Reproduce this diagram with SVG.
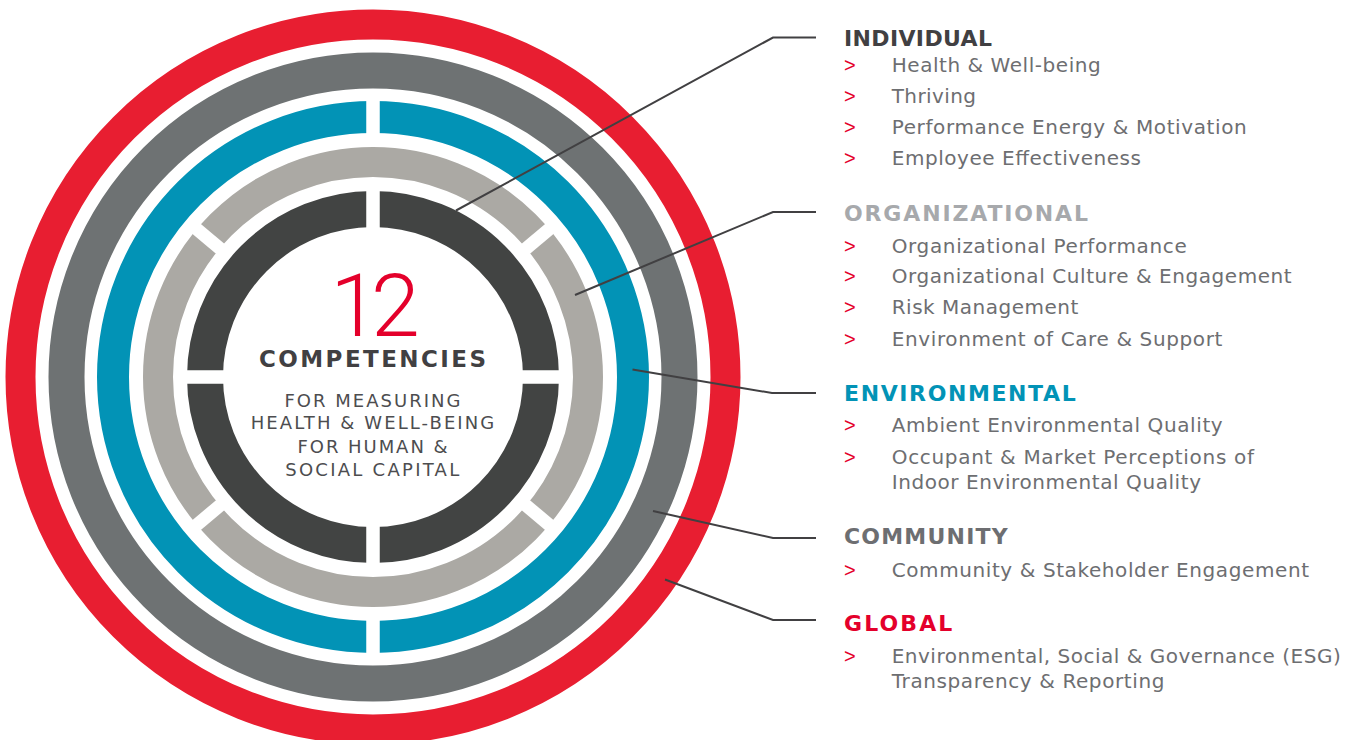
<svg xmlns="http://www.w3.org/2000/svg" width="1354" height="740" viewBox="0 0 1354 740">
  <style>
    .ring { fill: none; }
    .gap { fill: #ffffff; }
    .conn { fill: none; stroke: #414042; stroke-width: 2; stroke-linejoin: miter; }
    .hdr { font-family: "DejaVu Sans", "Liberation Sans", sans-serif; font-weight: bold; font-size: 22px; }
    .item { font-family: "DejaVu Sans", "Liberation Sans", sans-serif; font-size: 20px; fill: #6D6E71; }
    .bul { font-family: "Liberation Sans", Arial, sans-serif; font-size: 20px; fill: #E4002B; }
    .ctr { font-family: "DejaVu Sans", "Liberation Sans", sans-serif; font-size: 18px; fill: #4D4D4F; text-anchor: middle; }
  </style>
  <rect x="0" y="0" width="1354" height="740" fill="#ffffff"/>

  <g id="ring-global">
    <circle class="ring" cx="373" cy="377" r="352.5" stroke="#E81E31" stroke-width="30"/>
  </g>
  <g id="ring-community">
    <circle class="ring" cx="373" cy="377" r="306.5" stroke="#6E7273" stroke-width="36"/>
  </g>
  <g id="ring-environmental">
    <circle class="ring" cx="373" cy="377" r="260" stroke="#0293B6" stroke-width="32"/>
    <rect class="gap" x="366.25" y="95" width="13.5" height="46"/>
    <rect class="gap" x="366.25" y="613" width="13.5" height="46"/>
  </g>
  <g id="ring-organizational">
    <circle class="ring" cx="373" cy="377" r="215" stroke="#ABA9A4" stroke-width="30"/>
    <g transform="translate(373 377)">
      <rect class="gap" x="194" y="-6.5" width="42" height="13" transform="rotate(-40)"/>
      <rect class="gap" x="194" y="-6.5" width="42" height="13" transform="rotate(-140)"/>
      <rect class="gap" x="194" y="-6.5" width="42" height="13" transform="rotate(40)"/>
      <rect class="gap" x="194" y="-6.5" width="42" height="13" transform="rotate(140)"/>
    </g>
  </g>
  <g id="ring-individual">
    <circle class="ring" cx="373" cy="377" r="168" stroke="#424443" stroke-width="36"/>
    <rect class="gap" x="366.25" y="185" width="13.5" height="50"/>
    <rect class="gap" x="366.25" y="519" width="13.5" height="50"/>
    <rect class="gap" x="181" y="370.25" width="50" height="13.5"/>
    <rect class="gap" x="515" y="370.25" width="50" height="13.5"/>
  </g>

  <g id="center-label">
    <text x="371" y="336" text-anchor="middle" font-family="Roboto, 'Open Sans', 'DejaVu Sans', sans-serif" font-weight="300" font-size="88" fill="#E4002B" letter-spacing="-8">12</text>
    <text x="372.5" y="366.5" text-anchor="middle" font-family="'DejaVu Sans', 'Liberation Sans', sans-serif" font-weight="bold" font-size="23" fill="#414042" textLength="227">COMPETENCIES</text>
    <text class="ctr" x="372.5" y="406.7" textLength="176">FOR MEASURING</text>
    <text class="ctr" x="372.5" y="429.3" textLength="243.5">HEALTH &amp; WELL-BEING</text>
    <text class="ctr" x="372.5" y="452.7" textLength="150">FOR HUMAN &amp;</text>
    <text class="ctr" x="372.2" y="475.7" textLength="174">SOCIAL CAPITAL</text>
  </g>

  <g id="connectors">
    <polyline class="conn" points="456,210.5 773,37.5 816,37.5"/>
    <polyline class="conn" points="575,295 773,212 816,212"/>
    <polyline class="conn" points="632.5,369.5 772,393 816,393"/>
    <polyline class="conn" points="653,511 773,538 816,538"/>
    <polyline class="conn" points="665,579.5 773,620 816,620"/>
  </g>

  <g id="label-individual">
    <text class="hdr" x="844" y="46" fill="#414042" textLength="148">INDIVIDUAL</text>
    <text class="bul" x="844" y="71.7">&gt;</text>
    <text class="item" x="891.7" y="71.7" textLength="209">Health &amp; Well-being</text>
    <text class="bul" x="844" y="103.3">&gt;</text>
    <text class="item" x="891.7" y="103.3" textLength="84.3">Thriving</text>
    <text class="bul" x="844" y="134.3">&gt;</text>
    <text class="item" x="891.7" y="134.3" textLength="355">Performance Energy &amp; Motivation</text>
    <text class="bul" x="844" y="165">&gt;</text>
    <text class="item" x="891.7" y="165" textLength="249.3">Employee Effectiveness</text>
  </g>

  <g id="label-organizational">
    <text class="hdr" x="844" y="220.7" fill="#A7A9AC" textLength="244">ORGANIZATIONAL</text>
    <text class="bul" x="844" y="252.7">&gt;</text>
    <text class="item" x="891.7" y="252.7" textLength="295">Organizational Performance</text>
    <text class="bul" x="844" y="283.3">&gt;</text>
    <text class="item" x="891.7" y="283.3" textLength="400">Organizational Culture &amp; Engagement</text>
    <text class="bul" x="844" y="314.3">&gt;</text>
    <text class="item" x="891.7" y="314.3" textLength="186.7">Risk Management</text>
    <text class="bul" x="844" y="346">&gt;</text>
    <text class="item" x="891.7" y="346" textLength="330.7">Environment of Care &amp; Support</text>
  </g>

  <g id="label-environmental">
    <text class="hdr" x="844" y="401" fill="#0293B6" textLength="231.7">ENVIRONMENTAL</text>
    <text class="bul" x="844" y="432.3">&gt;</text>
    <text class="item" x="891.7" y="432.3" textLength="331">Ambient Environmental Quality</text>
    <text class="bul" x="844" y="464.3">&gt;</text>
    <text class="item" x="891.7" y="464.3" textLength="362.3">Occupant &amp; Market Perceptions of</text>
    <text class="item" x="891.7" y="489" textLength="309.3">Indoor Environmental Quality</text>
  </g>

  <g id="label-community">
    <text class="hdr" x="844" y="544" fill="#6D6E71" textLength="163.7">COMMUNITY</text>
    <text class="bul" x="844" y="576.7">&gt;</text>
    <text class="item" x="891.7" y="576.7" textLength="417.3">Community &amp; Stakeholder Engagement</text>
  </g>

  <g id="label-global">
    <text class="hdr" x="844" y="630.7" fill="#E4002B" textLength="108.3">GLOBAL</text>
    <text class="bul" x="844" y="662.7">&gt;</text>
    <text class="item" x="891.7" y="662.7" textLength="449">Environmental, Social &amp; Governance (ESG)</text>
    <text class="item" x="891.7" y="688.3" textLength="272.7">Transparency &amp; Reporting</text>
  </g>
</svg>
